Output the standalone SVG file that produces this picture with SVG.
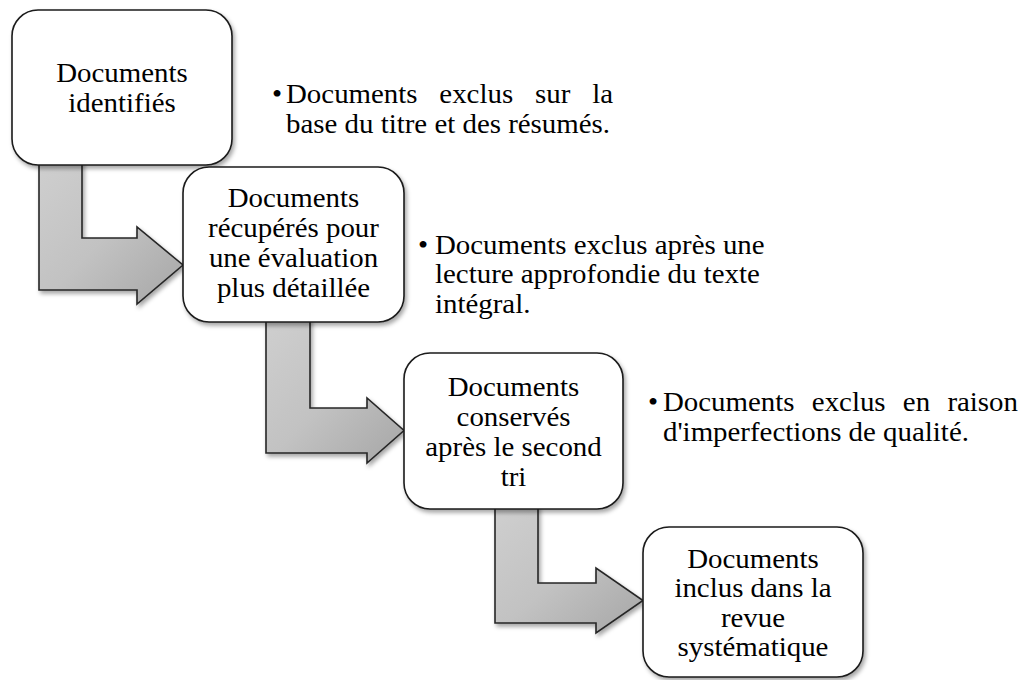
<svg xmlns="http://www.w3.org/2000/svg" width="1022" height="680" viewBox="0 0 1022 680">
  <defs>
    <filter id="shadow" x="-10%" y="-10%" width="130%" height="130%">
      <feDropShadow dx="2" dy="3" stdDeviation="2" flood-color="#000" flood-opacity="0.35"/>
    </filter>
    <linearGradient id="arrowFill" x1="0" y1="0" x2="1" y2="1">
      <stop offset="0" stop-color="#cfcfcf"/>
      <stop offset="0.5" stop-color="#c2c2c2"/>
      <stop offset="1" stop-color="#a6a6a6"/>
    </linearGradient>
  </defs>
  <style>
    .box { fill: #ffffff; stroke: #1a1a1a; stroke-width: 1.6; filter: url(#shadow); }
    .arrow { fill: url(#arrowFill); stroke: #262626; stroke-width: 1.6; stroke-linejoin: miter; filter: url(#shadow); }
    text { font-family: "Liberation Serif", "Times New Roman", serif; font-size: 27px; fill: #000; }
    .c { text-anchor: middle; }
  </style>
  <rect width="1022" height="680" fill="#ffffff"/>

  <g id="connectors">
    <path class="arrow" d="M39,160 L82,160 L82,238 L137,238 L137,227 L183,265 L137,304 L137,290 L39,290 Z"/>
    <path class="arrow" d="M266,318 L310,318 L310,408 L367,408 L367,398 L404,430.5 L367,463 L367,453 L266,453 Z"/>
    <path class="arrow" d="M495,505 L538,505 L538,583 L596,583 L596,568 L643,600.5 L596,633 L596,623 L495,623 Z"/>
  </g>

  <g id="node1">
    <rect class="box" x="12" y="10" width="220" height="155" rx="26"/>
    <text class="c" transform="translate(122 82) scale(1.07 1)"><tspan x="0" y="0">Documents</tspan><tspan x="0" y="30">identifiés</tspan></text>
  </g>

  <g id="node2">
    <rect class="box" x="183" y="167" width="221" height="155" rx="26"/>
    <text class="c" transform="translate(293.5 207) scale(1.07 1)"><tspan x="0" y="0">Documents</tspan><tspan x="0" y="30">récupérés pour</tspan><tspan x="0" y="60">une évaluation</tspan><tspan x="0" y="90">plus détaillée</tspan></text>
  </g>

  <g id="node3">
    <rect class="box" x="404" y="353" width="219" height="156" rx="26"/>
    <text class="c" transform="translate(513.5 396) scale(1.07 1)"><tspan x="0" y="0">Documents</tspan><tspan x="0" y="30">conservés</tspan><tspan x="0" y="60">après le second</tspan><tspan x="0" y="90">tri</tspan></text>
  </g>

  <g id="node4">
    <rect class="box" x="643" y="527" width="220" height="150" rx="26"/>
    <text class="c" transform="translate(753 568) scale(1.07 1)"><tspan x="0" y="0">Documents</tspan><tspan x="0" y="29.5">inclus dans la</tspan><tspan x="0" y="59">revue</tspan><tspan x="0" y="88.5">systématique</tspan></text>
  </g>

  <g id="note1">
    <text transform="translate(272 103) scale(1.07 1)"><tspan x="0" y="0">•</tspan><tspan x="13.1" y="0">Documents</tspan><tspan x="156.4" y="0">exclus</tspan><tspan x="245.8" y="0">sur</tspan><tspan x="299.2" y="0">la</tspan><tspan x="13.1" y="30">base du titre et des résumés.</tspan></text>
  </g>

  <g id="note2">
    <text transform="translate(418 254) scale(1.07 1)"><tspan x="0" y="0">•</tspan><tspan x="15.9" y="0">Documents exclus après une</tspan><tspan x="15.9" y="29.5">lecture approfondie du texte</tspan><tspan x="15.9" y="59">intégral.</tspan></text>
  </g>

  <g id="note3">
    <text transform="translate(648 411) scale(1.07 1)"><tspan x="0" y="0">•</tspan><tspan x="14" y="0">Documents</tspan><tspan x="153.1" y="0">exclus</tspan><tspan x="238.2" y="0">en</tspan><tspan x="279.8" y="0">raison</tspan><tspan x="14" y="30">d'imperfections de qualité.</tspan></text>
  </g>
</svg>
